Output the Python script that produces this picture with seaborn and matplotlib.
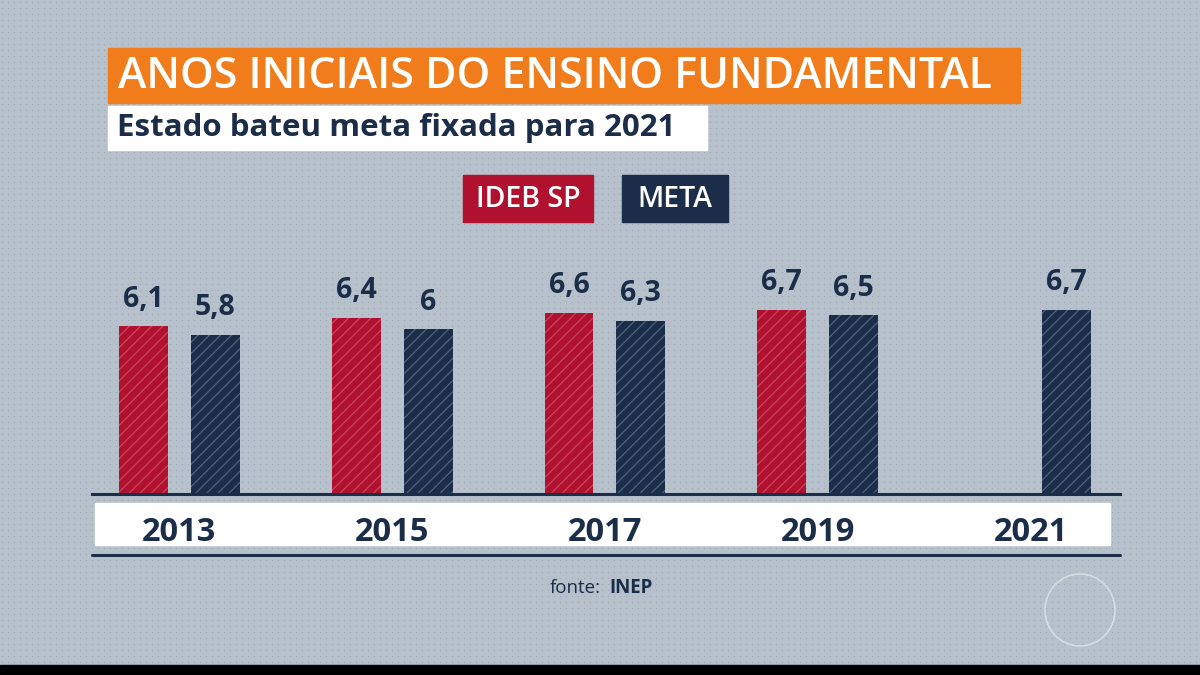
import numpy as np
import pandas as pd
import seaborn as sns
from matplotlib import pyplot as plt
from matplotlib.patches import Rectangle, Ellipse
from matplotlib.lines import Line2D

# data
years = ["2013", "2015", "2017", "2019", "2021"]
ideb_sp = [6.1, 6.4, 6.6, 6.7, np.nan]
meta = [5.8, 6.0, 6.3, 6.5, 6.7]
series = ["IDEB SP", "META"]

title = "ANOS INICIAIS DO ENSINO FUNDAMENTAL"
subtitle = "Estado bateu meta fixada para 2021"

BG = "#b7c1cb"
ORANGE = "#f07c1c"
RED = "#b0112f"
NAVY = "#1b2d48"
RED_HATCH = "#c9445f"
NAVY_HATCH = "#4f6380"

sns.set_style("white")
plt.rcParams["font.family"] = ["Open Sans", "DejaVu Sans"]
plt.rcParams["hatch.linewidth"] = 0.9

df = pd.DataFrame({
    "ano": years * 2,
    "serie": [series[0]] * len(years) + [series[1]] * len(years),
    "valor": ideb_sp + meta,
})


def fx(x):
    return x / 1200


def fy(y):
    return 1 - y / 675


fig = plt.figure(figsize=(12, 6.75), dpi=100, facecolor=BG)

# faint dotted texture of the background
bg = fig.add_axes([0, 0, 1, 1], zorder=-5)
bg.set_xlim(0, 1200)
bg.set_ylim(675, 0)
bg.axis("off")
gx, gy = np.meshgrid(np.arange(2, 1200, 6), np.arange(2, 675, 6))
bg.scatter(gx.ravel(), gy.ravel(), s=0.6, color="#9aa5b1", linewidths=0)

# title boxes
fig.add_artist(Rectangle((fx(108), fy(103)), fx(1020 - 108), (103 - 48) / 675,
                         transform=fig.transFigure, color=ORANGE, zorder=1))
fig.text(fx(118), fy(76), title, color="white", fontsize=31, fontweight="semibold",
         va="center", ha="left", zorder=2)
fig.add_artist(Rectangle((fx(108), fy(150)), fx(707 - 108), (150 - 106) / 675,
                         transform=fig.transFigure, color="white", zorder=1))
fig.text(fx(117), fy(128), subtitle, color=NAVY, fontsize=22.5, fontweight="bold",
         va="center", ha="left", zorder=2)

# legend boxes
fig.add_artist(Rectangle((fx(463), fy(222)), fx(593 - 463), (222 - 175) / 675,
                         transform=fig.transFigure, color=RED, zorder=1))
fig.text(fx(528), fy(199), series[0], color="white", fontsize=20.5, fontweight="semibold",
         ha="center", va="center", zorder=2)
fig.add_artist(Rectangle((fx(622), fy(222)), fx(728 - 622), (222 - 175) / 675,
                         transform=fig.transFigure, color=NAVY, zorder=1))
fig.text(fx(675), fy(199), series[1], color="white", fontsize=20.5, fontweight="semibold",
         ha="center", va="center", zorder=2)

# white band behind the years + lower rule
fig.add_artist(Rectangle((fx(95), fy(545)), fx(1110 - 95), (545 - 503) / 675,
                         transform=fig.transFigure, color="white", zorder=0))
fig.add_artist(Line2D([fx(92), fx(1120)], [fy(554.5), fy(554.5)], transform=fig.transFigure,
                      color=NAVY, lw=2.2))

# bars
ax = fig.add_axes([fx(92), fy(494), fx(1120 - 92), 220 / 675])
ax.set_facecolor("none")
sns.barplot(data=df, x="ano", y="valor", hue="serie", order=years, hue_order=series,
            palette=[RED, NAVY], width=0.676, gap=0.32, saturation=1,
            legend=False, ax=ax)

for cont, hc in zip(ax.containers, [RED_HATCH, NAVY_HATCH]):
    for bar in cont:
        bar.set_hatch("///")
        bar.set_edgecolor(hc)
        bar.set_linewidth(0)
    ax.bar_label(cont, fmt=lambda v: f"{v:g}".replace(".", ","), padding=9,
                 fontsize=20.5, fontweight="bold", color=NAVY)

ax.set_xlim(-0.41, 4.42)
ax.set_ylim(0, 8)
ax.set_xlabel("")
ax.set_ylabel("")
ax.set_yticks([])
for side in ["top", "left", "right"]:
    ax.spines[side].set_visible(False)
ax.spines["bottom"].set_color(NAVY)
ax.spines["bottom"].set_linewidth(2.2)
ax.tick_params(axis="x", length=0, pad=16, labelsize=23.5, labelcolor=NAVY)
for lab in ax.get_xticklabels():
    lab.set_fontweight("bold")

# source
fig.text(fx(601), fy(588), "fonte:", color=NAVY, fontsize=13.5, ha="right", va="center")
fig.text(fx(609), fy(588), "INEP", color=NAVY, fontsize=13.5, fontweight="bold",
         ha="left", va="center")

# channel logo outline and bottom black strip
fig.add_artist(Ellipse((fx(1080), fy(610)), fx(70), 72 / 675, transform=fig.transFigure,
                       fill=False, edgecolor="#dde3e8", lw=1.2, alpha=0.8))
fig.add_artist(Rectangle((0, 0), 1, 10 / 675, transform=fig.transFigure, color="black"))

fig.savefig("out.png", dpi=100, facecolor=BG)
